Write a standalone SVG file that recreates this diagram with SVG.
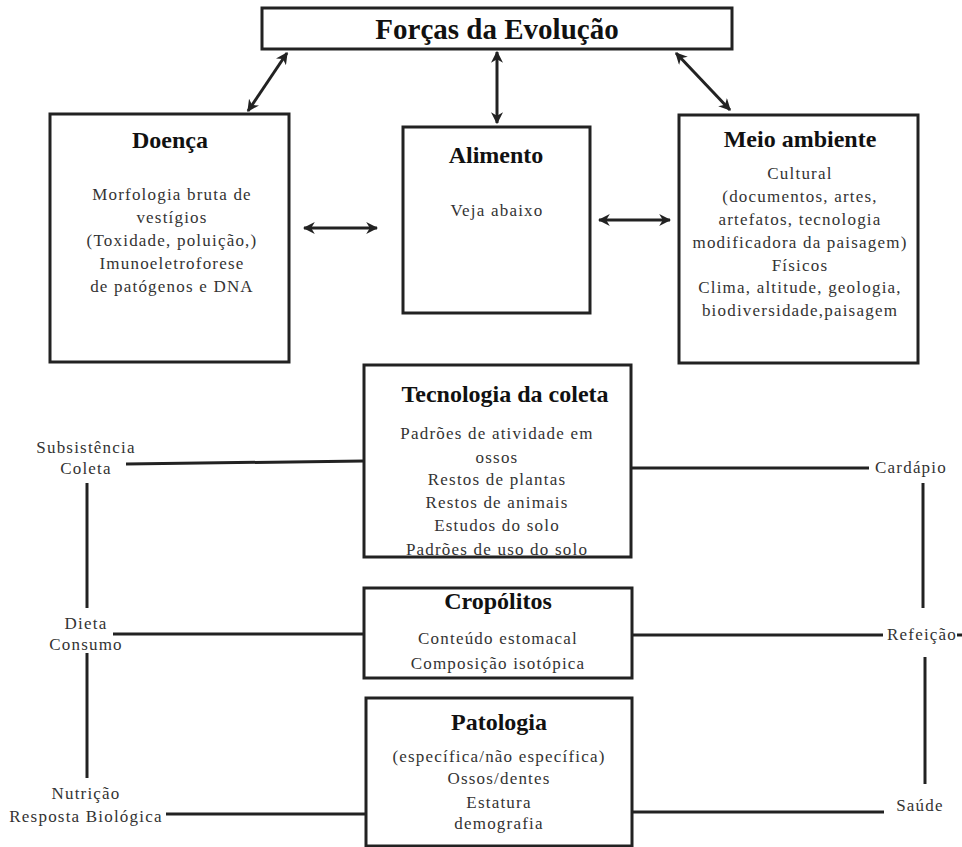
<svg xmlns="http://www.w3.org/2000/svg" width="962" height="847" viewBox="0 0 962 847">
<style>
.box{fill:#fff;stroke:#222;stroke-width:3}
.t{font-family:"Liberation Serif","DejaVu Serif",serif;font-weight:bold;fill:#111;text-anchor:middle}
.b{font-family:"Liberation Serif","DejaVu Serif",serif;font-size:17px;letter-spacing:1.2px;fill:#333;text-anchor:middle}
.c{stroke:#222;stroke-width:3;fill:none}
</style>
<defs>
<marker id="ah" viewBox="0 0 10 10" refX="9" refY="5" markerWidth="4" markerHeight="4" orient="auto-start-reverse" markerUnits="strokeWidth">
<path d="M0,0 L10,5 L0,10 L3,5 z" fill="#222"/>
</marker>
</defs>
<rect width="962" height="847" fill="#fff"/>
<g id="connectors">
<line class="c" x1="287" y1="53" x2="248" y2="111" marker-start="url(#ah)" marker-end="url(#ah)"/>
<line class="c" x1="497" y1="52" x2="497" y2="123" marker-start="url(#ah)" marker-end="url(#ah)"/>
<line class="c" x1="676" y1="53" x2="730" y2="110" marker-start="url(#ah)" marker-end="url(#ah)"/>
<line class="c" x1="304" y1="228" x2="377" y2="228" marker-start="url(#ah)" marker-end="url(#ah)"/>
<line class="c" x1="599" y1="220" x2="670" y2="220" marker-start="url(#ah)" marker-end="url(#ah)"/>
<line class="c" x1="126" y1="464" x2="364" y2="461"/>
<line class="c" x1="87" y1="483" x2="87" y2="608"/>
<line class="c" x1="113" y1="634" x2="364" y2="634"/>
<line class="c" x1="87" y1="653" x2="87" y2="778"/>
<line class="c" x1="166" y1="814" x2="366" y2="814"/>
<line class="c" x1="631" y1="468" x2="869" y2="468"/>
<line class="c" x1="923" y1="483" x2="923" y2="608"/>
<line class="c" x1="632" y1="635" x2="883" y2="635"/>
<line class="c" x1="957" y1="635" x2="962" y2="635"/>
<line class="c" x1="925" y1="657" x2="925" y2="784"/>
<line class="c" x1="632" y1="812" x2="884" y2="812"/>
</g>
<g id="title">
<rect class="box" x="262" y="8" width="470" height="41"/>
<text class="t" x="497" y="39" font-size="29">Forças da Evolução</text>
</g>
<g id="doenca">
<rect class="box" x="50" y="114" width="239" height="248"/>
<text class="t" x="170" y="148" font-size="24">Doença</text>
<text class="b" x="172" y="200">Morfologia bruta de</text>
<text class="b" x="172" y="223">vestígios</text>
<text class="b" x="172" y="246">(Toxidade, poluição,)</text>
<text class="b" x="172" y="269">Imunoeletroforese</text>
<text class="b" x="172" y="292">de patógenos e DNA</text>
</g>
<g id="alimento">
<rect class="box" x="403" y="127" width="187" height="186"/>
<text class="t" x="496" y="163" font-size="24">Alimento</text>
<text class="b" x="497" y="216">Veja abaixo</text>
</g>
<g id="meio">
<rect class="box" x="679" y="115" width="239" height="248"/>
<text class="t" x="800" y="147" font-size="24">Meio ambiente</text>
<text class="b" x="800" y="179">Cultural</text>
<text class="b" x="800" y="202">(documentos, artes,</text>
<text class="b" x="800" y="225">artefatos, tecnologia</text>
<text class="b" x="800" y="248">modificadora da paisagem)</text>
<text class="b" x="800" y="271">Físicos</text>
<text class="b" x="800" y="293">Clima, altitude, geologia,</text>
<text class="b" x="800" y="316">biodiversidade,paisagem</text>
</g>
<g id="tecnologia">
<rect class="box" x="364" y="365" width="267" height="192"/>
<text class="t" x="505" y="402" font-size="24">Tecnologia da coleta</text>
<text class="b" x="497" y="439">Padrões de atividade em</text>
<text class="b" x="497" y="463">ossos</text>
<text class="b" x="497" y="485">Restos de plantas</text>
<text class="b" x="497" y="508">Restos de animais</text>
<text class="b" x="497" y="531">Estudos do solo</text>
<text class="b" x="497" y="555">Padrões de uso do solo</text>
</g>
<g id="cropolitos">
<rect class="box" x="364" y="588" width="268" height="90"/>
<text class="t" x="498" y="609" font-size="24">Cropólitos</text>
<text class="b" x="498" y="644">Conteúdo estomacal</text>
<text class="b" x="498" y="669">Composição isotópica</text>
</g>
<g id="patologia">
<rect class="box" x="366" y="698" width="266" height="148"/>
<text class="t" x="499" y="730" font-size="24">Patologia</text>
<text class="b" x="499" y="762">(específica/não específica)</text>
<text class="b" x="499" y="784">Ossos/dentes</text>
<text class="b" x="499" y="808">Estatura</text>
<text class="b" x="499" y="829">demografia</text>
</g>
<g id="labels-left">
<text class="b" x="86" y="453">Subsistência</text>
<text class="b" x="86" y="474">Coleta</text>
<text class="b" x="86" y="629">Dieta</text>
<text class="b" x="86" y="650">Consumo</text>
<text class="b" x="86" y="799">Nutrição</text>
<text class="b" x="86" y="822">Resposta Biológica</text>
</g>
<g id="labels-right">
<text class="b" x="911" y="473">Cardápio</text>
<text class="b" x="922" y="640">Refeição</text>
<text class="b" x="920" y="811">Saúde</text>
</g>
</svg>
